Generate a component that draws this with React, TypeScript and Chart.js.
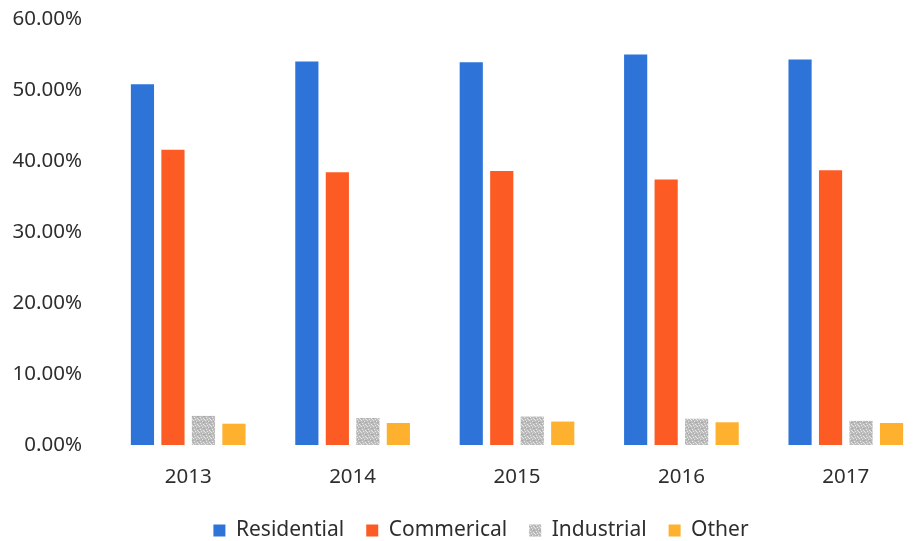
import React, { useEffect, useRef } from "react";
import { Chart, registerables } from "chart.js";

Chart.register(...registerables);

const years = ["2013", "2014", "2015", "2016", "2017"];
const residential = [50.8, 54.0, 53.9, 55.0, 54.3];
const commercial = [41.6, 38.4, 38.6, 37.4, 38.7];
const industrial = [4.1, 3.8, 4.0, 3.7, 3.4];
const other = [3.0, 3.1, 3.3, 3.2, 3.1];

const FONT = "'Noto Sans', 'Open Sans', sans-serif";
const TEXT = "#2e2e2e";

function makeSpeckle(): CanvasPattern | string {
  const c = document.createElement("canvas");
  c.width = 6;
  c.height = 6;
  const ctx = c.getContext("2d");
  if (!ctx) return "#bfbfbf";
  ctx.fillStyle = "#bdbdbd";
  ctx.fillRect(0, 0, 6, 6);
  ctx.fillStyle = "#e6e6e6";
  const spots = [[1, 0], [4, 1], [2, 3], [5, 4], [0, 5], [3, 5]];
  for (const [x, y] of spots) ctx.fillRect(x, y, 1, 1);
  ctx.fillStyle = "#a8a8a8";
  const dark = [[0, 2], [3, 1], [5, 2], [1, 4]];
  for (const [x, y] of dark) ctx.fillRect(x, y, 1, 1);
  const p = ctx.createPattern(c, "repeat");
  return p || "#bfbfbf";
}

const shiftLegend = {
  id: "shiftLegend",
  afterLayout(chart: any) {
    const lg = chart.legend;
    if (lg) {
      lg.left += 17;
      lg.right += 17;
    }
  },
};

export default function App() {
  const ref = useRef<HTMLCanvasElement | null>(null);
  useEffect(() => {
    if (!ref.current) return;
    const speckle = makeSpeckle();
    const chart = new Chart(ref.current, {
      type: "bar",
      data: {
        labels: years,
        datasets: [
          { label: "Residential", data: residential, backgroundColor: "#2e74d8" },
          { label: "Commerical", data: commercial, backgroundColor: "#fc5b24" },
          { label: "Industrial", data: industrial, backgroundColor: speckle as any },
          { label: "Other", data: other, backgroundColor: "#feb02f" },
        ],
      },
      plugins: [shiftLegend],
      options: {
        animation: false,
        responsive: true,
        maintainAspectRatio: false,
        layout: { padding: { left: 0, right: 12, top: 19, bottom: -10 } },
        datasets: {
          bar: { categoryPercentage: 0.742, barPercentage: 0.76 },
        },
        plugins: {
          legend: {
            position: "bottom",
            labels: {
              boxWidth: 12,
              boxHeight: 12,
              padding: 22,
              color: TEXT,
              font: { family: FONT, size: 21 },
            },
          },
          tooltip: { enabled: false },
        },
        scales: {
          x: {
            grid: { display: false },
            border: { display: false },
            ticks: {
              color: TEXT,
              font: { family: FONT, size: 20.5 },
              padding: 12,
            },
            afterFit: (s: any) => {
              s.height = 53;
            },
          },
          y: {
            min: 0,
            max: 60,
            grid: { display: false, drawTicks: true, tickLength: 24 },
            border: { display: false },
            ticks: {
              stepSize: 10,
              color: TEXT,
              font: { family: FONT, size: 20.5 },
              padding: 0,
              callback: (v: any) => Number(v).toFixed(2) + "%",
            },
            afterFit: (s: any) => {
              s.width = 106;
            },
          },
        },
      },
    });
    return () => chart.destroy();
  }, []);
  return (
    <div
      style={{
        position: "fixed",
        left: 0,
        top: 0,
        width: 916,
        height: 541,
        overflow: "hidden",
        background: "#fff",
      }}
    >
      <div style={{ position: "relative", width: 940, height: 541 }}>
        <canvas ref={ref} />
      </div>
    </div>
  );
}
